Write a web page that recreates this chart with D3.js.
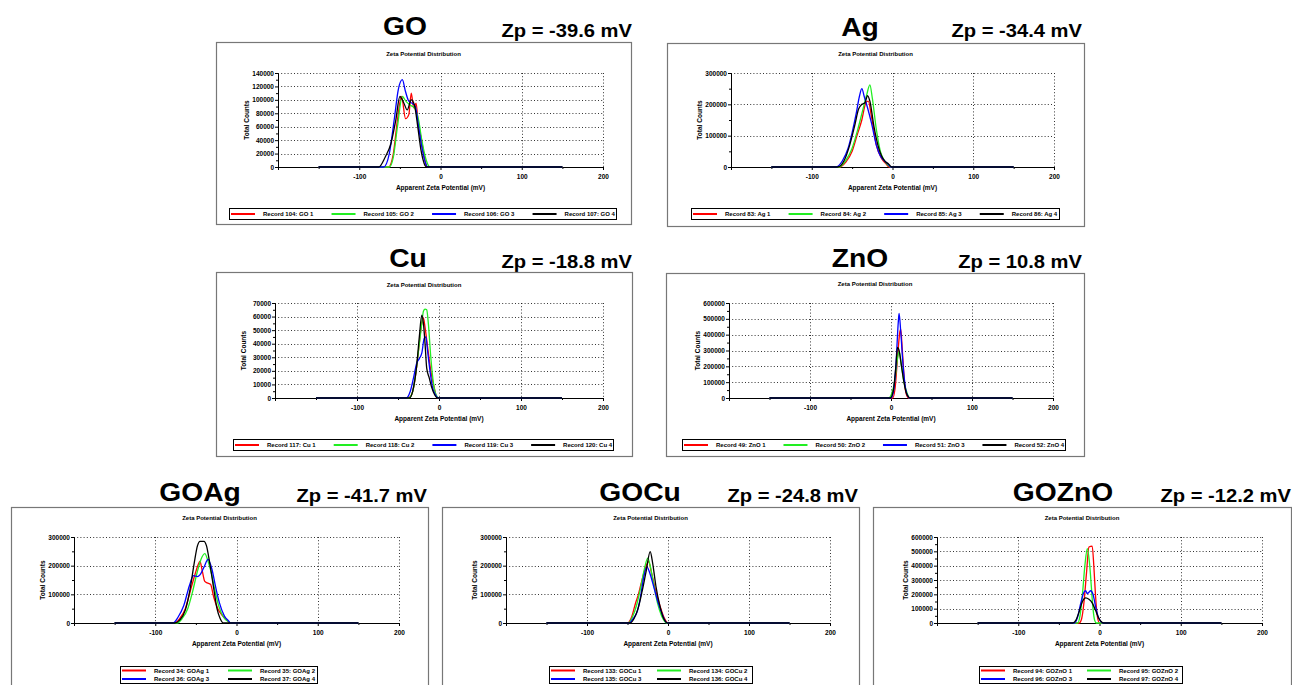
<!DOCTYPE html>
<html>
<head>
<meta charset="utf-8">
<script src="https://cdn.jsdelivr.net/npm/d3@7"></script>
<style>
  body { margin: 0; background: #fff; }
  svg { display: block; font-family: "Liberation Sans", Arial, sans-serif; }
</style>
</head>
<body>
<svg id="fig" width="1292" height="685"></svg>
<script>
// Zeta potential distributions, [apparent zeta potential (mV), total counts]
const GO_1 = [[-150,0],[-64,0],[-58,20000],[-53,70000],[-48,105000],[-43,72000],[-39,78000],[-36,110000],[-33,88000],[-30,95000],[-27,57000],[-24,45000],[-20,15000],[-16,0],[150,0]];
const GO_2 = [[-150,0],[-63,0],[-58,15000],[-53,60000],[-47,105000],[-42,97000],[-37,92000],[-32,88000],[-27,70000],[-23,40000],[-18,12000],[-13,0],[150,0]];
const GO_3 = [[-150,0],[-70,0],[-63,20000],[-57,70000],[-52,115000],[-47,130000],[-43,112000],[-39,98000],[-35,95000],[-31,90000],[-27,60000],[-23,30000],[-19,8000],[-16,0],[150,0]];
const GO_4 = [[-150,0],[-76,0],[-68,15000],[-61,35000],[-55,70000],[-50,105000],[-45,95000],[-41,85000],[-36,100000],[-32,92000],[-28,60000],[-24,25000],[-20,5000],[-17,0],[150,0]];

const AG_1 = [[-150,0],[-65,0],[-58,15000],[-50,50000],[-44,100000],[-38,150000],[-33,205000],[-30,210000],[-26,160000],[-20,70000],[-13,25000],[-8,10000],[-4,0],[150,0]];
const AG_2 = [[-150,0],[-66,0],[-58,20000],[-50,60000],[-43,120000],[-37,180000],[-32,230000],[-28,262000],[-25,220000],[-20,120000],[-15,50000],[-10,20000],[-5,5000],[-2,0],[150,0]];
const AG_3 = [[-150,0],[-70,0],[-62,20000],[-55,60000],[-50,110000],[-45,170000],[-41,225000],[-38,250000],[-35,225000],[-31,190000],[-26,140000],[-20,70000],[-15,35000],[-10,20000],[-5,8000],[-2,0],[150,0]];
const AG_4 = [[-150,0],[-68,0],[-60,20000],[-53,70000],[-47,130000],[-42,185000],[-38,200000],[-34,205000],[-31,228000],[-28,210000],[-23,130000],[-17,60000],[-10,20000],[-5,10000],[-1,0],[150,0]];

const CU_1 = [[-150,0],[-38,0],[-33,3000],[-29,15000],[-25,35000],[-21,55000],[-19,59000],[-17,52000],[-14,38000],[-10,20000],[-6,8000],[-2,0],[150,0]];
const CU_2 = [[-150,0],[-37,0],[-32,5000],[-28,20000],[-24,40000],[-21,55000],[-19,64000],[-17,65500],[-15,65000],[-13,55000],[-10,30000],[-7,12000],[-4,3000],[0,0],[150,0]];
const CU_3 = [[-150,0],[-40,0],[-35,5000],[-31,15000],[-27,26000],[-24,29000],[-21,33000],[-18,44000],[-16,45000],[-14,35000],[-11,20000],[-8,8000],[-4,2000],[-1,0],[150,0]];
const CU_4 = [[-150,0],[-36,0],[-31,8000],[-27,25000],[-24,45000],[-21,61000],[-19,55000],[-17,40000],[-15,22000],[-12,15000],[-9,8000],[-5,2000],[-2,0],[150,0]];

const ZNO_1 = [[-150,0],[2,0],[5,60000],[8,250000],[11,420000],[12,435000],[14,300000],[17,80000],[20,10000],[22,0],[150,0]];
const ZNO_2 = [[-150,0],[-3,0],[1,30000],[5,120000],[8,250000],[10,292000],[13,200000],[16,100000],[20,30000],[23,0],[150,0]];
const ZNO_3 = [[-150,0],[0,0],[3,40000],[6,200000],[9,480000],[10,535000],[12,420000],[15,200000],[18,60000],[21,10000],[23,0],[150,0]];
const ZNO_4 = [[-150,0],[-1,0],[3,50000],[6,200000],[8,320000],[10,300000],[13,200000],[16,100000],[19,30000],[22,5000],[24,0],[150,0]];

const GOAG_1 = [[-150,0],[-76,0],[-70,15000],[-63,50000],[-57,110000],[-51,170000],[-47,205000],[-45,215000],[-42,180000],[-39,145000],[-36,140000],[-32,135000],[-28,90000],[-23,50000],[-17,25000],[-12,10000],[-7,0],[150,0]];
const GOAG_2 = [[-150,0],[-73,0],[-67,15000],[-60,50000],[-54,110000],[-49,170000],[-44,220000],[-39,242000],[-35,215000],[-31,175000],[-27,120000],[-22,60000],[-16,20000],[-10,5000],[-7,0],[150,0]];
const GOAG_3 = [[-150,0],[-78,0],[-72,20000],[-65,60000],[-58,130000],[-53,165000],[-48,162000],[-45,168000],[-40,195000],[-35,222000],[-30,185000],[-26,130000],[-21,70000],[-15,25000],[-10,8000],[-7,0],[150,0]];
const GOAG_4 = [[-150,0],[-76,0],[-70,10000],[-63,45000],[-57,120000],[-52,210000],[-48,270000],[-45,285000],[-40,285000],[-37,270000],[-33,210000],[-28,120000],[-24,50000],[-20,15000],[-16,0],[150,0]];

const GOCU_1 = [[-150,0],[-50,0],[-45,20000],[-40,70000],[-37,95000],[-33,140000],[-28,190000],[-24,214000],[-20,170000],[-15,110000],[-10,60000],[-5,20000],[0,0],[150,0]];
const GOCU_2 = [[-150,0],[-49,0],[-44,20000],[-39,60000],[-34,120000],[-29,190000],[-25,226000],[-22,200000],[-18,140000],[-13,70000],[-8,25000],[-4,5000],[-2,0],[150,0]];
const GOCU_3 = [[-150,0],[-48,0],[-43,15000],[-38,40000],[-34,90000],[-30,160000],[-26,196000],[-22,170000],[-17,120000],[-12,70000],[-7,30000],[-3,5000],[0,0],[150,0]];
const GOCU_4 = [[-150,0],[-47,0],[-42,15000],[-37,50000],[-32,110000],[-27,180000],[-22,249000],[-19,210000],[-15,130000],[-10,60000],[-6,20000],[-3,5000],[-1,0],[150,0]];

const GOZNO_1 = [[-150,0],[-25,0],[-22,30000],[-19,150000],[-16,350000],[-13,530000],[-9,537000],[-7,400000],[-5,200000],[-3,60000],[0,0],[150,0]];
const GOZNO_2 = [[-150,0],[-27,0],[-24,50000],[-21,200000],[-18,400000],[-15,518000],[-12,400000],[-10,250000],[-8,100000],[-6,20000],[-4,0],[150,0]];
const GOZNO_3 = [[-150,0],[-31,0],[-27,40000],[-23,140000],[-19,215000],[-17,225000],[-15,205000],[-13,215000],[-11,225000],[-8,200000],[-5,120000],[-2,50000],[1,15000],[4,0],[150,0]];
const GOZNO_4 = [[-150,0],[-33,0],[-29,20000],[-25,80000],[-21,150000],[-17,175000],[-13,165000],[-9,140000],[-5,90000],[-1,35000],[2,10000],[5,0],[150,0]];

const GO_LABELS = ['Record 104: GO 1', 'Record 105: GO 2', 'Record 106: GO 3', 'Record 107: GO 4'];
const AG_LABELS = ['Record 83: Ag 1', 'Record 84: Ag 2', 'Record 85: Ag 3', 'Record 86: Ag 4'];
const CU_LABELS = ['Record 117: Cu 1', 'Record 118: Cu 2', 'Record 119: Cu 3', 'Record 120: Cu 4'];
const ZNO_LABELS = ['Record 49: ZnO 1', 'Record 50: ZnO 2', 'Record 51: ZnO 3', 'Record 52: ZnO 4'];
const GOAG_LABELS = ['Record 34: GOAg 1', 'Record 35: GOAg 2', 'Record 36: GOAg 3', 'Record 37: GOAg 4'];
const GOCU_LABELS = ['Record 133: GOCu 1', 'Record 134: GOCu 2', 'Record 135: GOCu 3', 'Record 136: GOCu 4'];
const GOZNO_LABELS = ['Record 94: GOZnO 1', 'Record 95: GOZnO 2', 'Record 96: GOZnO 3', 'Record 97: GOZnO 4'];

const xMajor = [-100, 0, 100, 200];
const xMinor = [-200, -150, -50, 50, 150];
const seriesColors = ['#ff0000', '#22ee22', '#0000ff', '#000000'];

// layout of each panel: box [x,y,w,h], plot [left,right,top,bottom], legend [x,y,w,h]
const panels = [
  { name: 'GO', zp: 'Zp = -39.6 mV', series: [GO_1, GO_2, GO_3, GO_4], labels: GO_LABELS,
    yMax: 140000, yStep: 20000, box: [216, 42, 415, 182], plot: [278, 603, 73, 167],
    titleX: 405, titleY: 35, zpX: 632, zpY: 37, ctY: 56, xlY: 190, legend: [229, 208, 387, 11], rows: 1 },
  { name: 'Ag', zp: 'Zp = -34.4 mV', series: [AG_1, AG_2, AG_3, AG_4], labels: AG_LABELS,
    yMax: 300000, yStep: 100000, box: [667, 43, 417, 183], plot: [731, 1054, 73, 167],
    titleX: 860, titleY: 36, zpX: 1082, zpY: 37, ctY: 56, xlY: 190, legend: [691, 208, 368, 11], rows: 1 },
  { name: 'Cu', zp: 'Zp = -18.8 mV', series: [CU_1, CU_2, CU_3, CU_4], labels: CU_LABELS,
    yMax: 70000, yStep: 10000, box: [216, 272, 416, 184], plot: [275, 603, 303, 398],
    titleX: 408, titleY: 267, zpX: 632, zpY: 268, ctY: 287, xlY: 421, legend: [233, 439, 380, 11], rows: 1 },
  { name: 'ZnO', zp: 'Zp = 10.8 mV', series: [ZNO_1, ZNO_2, ZNO_3, ZNO_4], labels: ZNO_LABELS,
    yMax: 600000, yStep: 100000, box: [666, 273, 418, 183], plot: [729, 1053, 303, 398],
    titleX: 860, titleY: 267, zpX: 1082, zpY: 268, ctY: 286, xlY: 421, legend: [682, 439, 383, 11], rows: 1 },
  { name: 'GOAg', zp: 'Zp = -41.7 mV', series: [GOAG_1, GOAG_2, GOAG_3, GOAG_4], labels: GOAG_LABELS,
    yMax: 300000, yStep: 100000, box: [11, 507, 417, 200], plot: [74, 399, 537, 623],
    titleX: 200, titleY: 501, zpX: 427, zpY: 502, ctY: 520, xlY: 646, legend: [120, 666, 197, 17], rows: 2 },
  { name: 'GOCu', zp: 'Zp = -24.8 mV', series: [GOCU_1, GOCU_2, GOCU_3, GOCU_4], labels: GOCU_LABELS,
    yMax: 300000, yStep: 100000, box: [442, 507, 417, 200], plot: [506, 830, 537, 623],
    titleX: 640, titleY: 501, zpX: 858, zpY: 502, ctY: 520, xlY: 646, legend: [549, 666, 203, 17], rows: 2 },
  { name: 'GOZnO', zp: 'Zp = -12.2 mV', series: [GOZNO_1, GOZNO_2, GOZNO_3, GOZNO_4], labels: GOZNO_LABELS,
    yMax: 600000, yStep: 100000, box: [873, 507, 418, 200], plot: [937, 1262, 537, 623],
    titleX: 1063, titleY: 501, zpX: 1291, zpY: 502, ctY: 520, xlY: 646, legend: [979, 666, 203, 17], rows: 2 }
];

const svg = d3.select('#fig');

function drawPanel(p) {
  const g = svg.append('g');
  const [left, right, top, bottom] = p.plot;

  // big sample name and zeta value (source picture is stretched horizontally)
  g.append('text')
    .attr('transform', `translate(${p.titleX},${p.titleY}) scale(1.13,1)`)
    .attr('text-anchor', 'middle')
    .attr('font-size', 25).attr('font-weight', 'bold')
    .text(p.name);
  g.append('text')
    .attr('transform', `translate(${p.zpX},${p.zpY}) scale(1.12,1)`)
    .attr('text-anchor', 'end')
    .attr('font-size', 18).attr('font-weight', 'bold')
    .text(p.zp);

  // frame
  g.append('rect')
    .attr('x', p.box[0] + 0.5).attr('y', p.box[1] + 0.5)
    .attr('width', p.box[2]).attr('height', p.box[3])
    .attr('fill', 'none').attr('stroke', '#777').attr('stroke-width', 1.2);

  g.append('text')
    .attr('x', p.box[0] + p.box[2] / 2).attr('y', p.ctY)
    .attr('text-anchor', 'middle').attr('font-size', 6).attr('font-weight', 'bold')
    .text('Zeta Potential Distribution');

  const x = d3.scaleLinear().domain([-200, 200]).range([left, right]);
  const y = d3.scaleLinear().domain([0, p.yMax]).range([bottom, top]);

  const yMajor = d3.range(0, p.yMax + 1, p.yStep);
  const yMinor = d3.range(p.yStep / 2, p.yMax, p.yStep);

  // dotted grid
  g.append('g').selectAll('line').data(yMajor.slice(1)).join('line')
    .attr('x1', left).attr('x2', right)
    .attr('y1', d => Math.round(y(d)) + 0.5).attr('y2', d => Math.round(y(d)) + 0.5)
    .attr('stroke', '#000').attr('stroke-width', 0.8).attr('stroke-dasharray', '1,2.2');
  g.append('g').selectAll('line').data(xMajor).join('line')
    .attr('x1', d => Math.round(x(d)) + 0.5).attr('x2', d => Math.round(x(d)) + 0.5)
    .attr('y1', top).attr('y2', bottom)
    .attr('stroke', '#000').attr('stroke-width', 0.8).attr('stroke-dasharray', '1,2.2');

  // axes (plain hyphen for negatives, as in the instrument software)
  const yAxis = g.append('g').attr('transform', `translate(${left},0)`)
    .call(d3.axisLeft(y).tickValues(yMajor).tickSize(3).tickPadding(1).tickFormat(d => String(d)));
  g.append('g').attr('transform', `translate(${left},0)`)
    .call(d3.axisLeft(y).tickValues(yMinor).tickSize(2).tickFormat(''))
    .select('.domain').remove();
  const xAxis = g.append('g').attr('transform', `translate(0,${bottom})`)
    .call(d3.axisBottom(x).tickValues(xMajor).tickSize(3).tickPadding(4).tickFormat(d => String(d)));
  g.append('g').attr('transform', `translate(0,${bottom})`)
    .call(d3.axisBottom(x).tickValues(xMinor).tickSize(2).tickFormat(''))
    .select('.domain').remove();
  [yAxis, xAxis].forEach(a => {
    a.selectAll('text').attr('font-size', 6.5).attr('font-weight', 'bold');
    a.attr('font-family', null);
  });
  g.selectAll('.domain, .tick line').attr('stroke', '#000');

  g.append('text')
    .attr('x', (left + right) / 2).attr('y', p.xlY)
    .attr('text-anchor', 'middle').attr('font-size', 6.5).attr('font-weight', 'bold')
    .text('Apparent Zeta Potential (mV)');
  g.append('text')
    .attr('transform', `translate(${left - 31},${(top + bottom) / 2}) rotate(-90)`)
    .attr('text-anchor', 'middle').attr('dy', '0.35em')
    .attr('font-size', 6.5).attr('font-weight', 'bold')
    .text('Total Counts');

  // curves
  const line = d3.line().x(d => x(d[0])).y(d => y(d[1])).curve(d3.curveMonotoneX);
  p.series.forEach((s, i) => {
    g.append('path').datum(s)
      .attr('d', line)
      .attr('fill', 'none')
      .attr('stroke', seriesColors[i])
      .attr('stroke-width', 1.3)
      .attr('stroke-linejoin', 'round');
  });

  // legend
  const [lx, ly, lw, lh] = p.legend;
  const lg = g.append('g');
  lg.append('rect')
    .attr('x', lx + 0.5).attr('y', ly + 0.5).attr('width', lw).attr('height', lh)
    .attr('fill', '#fff').attr('stroke', '#000').attr('stroke-width', 1);
  p.labels.forEach((lab, i) => {
    let ex, ey;
    if (p.rows === 1) {
      ex = lx + 2 + i * (lw / 3.85);
      ey = ly + lh / 2 + 0.5;
    } else {
      ex = lx + 2 + (i % 2) * 106;
      ey = ly + 4.5 + Math.floor(i / 2) * 8.5;
    }
    lg.append('line')
      .attr('x1', ex).attr('x2', ex + 24).attr('y1', ey).attr('y2', ey)
      .attr('stroke', seriesColors[i]).attr('stroke-width', 2);
    lg.append('text')
      .attr('x', ex + 32).attr('y', ey).attr('dy', '0.35em')
      .attr('font-size', 6).attr('font-weight', 'bold')
      .text(lab);
  });
}

panels.forEach(drawPanel);
</script>
</body>
</html>
